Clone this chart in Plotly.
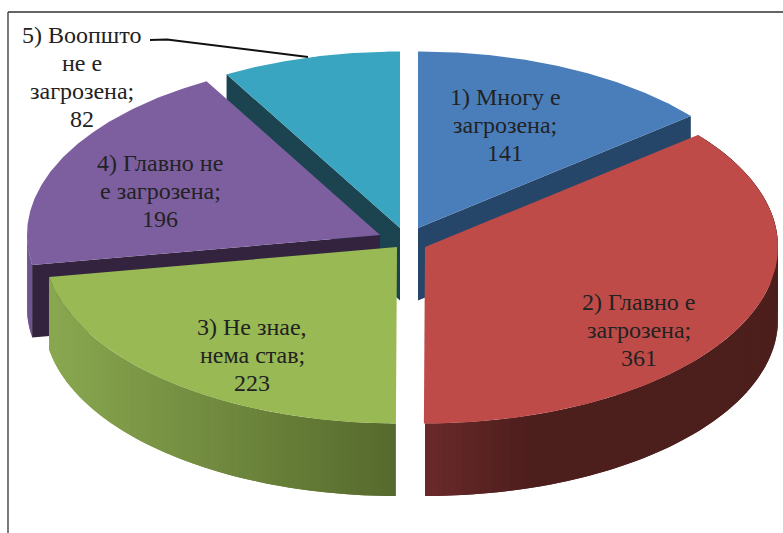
import numpy as np
import plotly.graph_objects as go

categories = ["1) Многу е", "2) Главно е", "3) Не знае,", "4) Главно не", "5) Воопшто"]
label_tails = [["загрозена;"], ["загрозена;"], ["нема став;"], ["е загрозена;"], ["не е", "загрозена;"]]
values = [141, 361, 223, 196, 82]

colors_top = ["#4a7ebb", "#be4b48", "#98b954", "#7d5f9f", "#3aa5c1"]
colors_cut = ["#254669", "#4c1e1c", "#566a2d", "#33233f", "#1c4450"]
centers = [(418, 228), (425, 247), (397, 247), (380, 235), (400, 228)]
label_pos = [(505, 97), (639, 302), (252, 327), (160, 163), (82, 35)]
RX, RY, DEPTH = 353, 176.5, 72.5
LINE_GAP = 28

total = sum(values)
edges = np.concatenate([[0], np.cumsum(values)]) / total * 2 * np.pi
fig = go.Figure()


def point(i, a, dy=0.0):
    cx, cy = centers[i]
    return cx + RX * np.sin(a), cy - RY * np.cos(a) + dy


def poly(xs, ys, color):
    fig.add_trace(go.Scatter(x=list(xs), y=list(ys), mode="lines", fill="toself",
                             fillcolor=color, line=dict(width=0, color=color),
                             hoverinfo="skip", showlegend=False))


def top(i):
    a = np.linspace(edges[i], edges[i + 1], 120)
    x, y = point(i, a)
    cx, cy = centers[i]
    poly(np.r_[cx, x, cx], np.r_[cy, y, cy], colors_top[i])


def cut(i, a):
    cx, cy = centers[i]
    x, y = point(i, a)
    poly([cx, x, x, cx, cx], [cy, y, y + DEPTH, cy + DEPTH, cy], colors_cut[i])


def lerp(c0, c1, t):
    t = min(max(t, 0), 1)
    return "rgb(%d,%d,%d)" % tuple(round(p + (q - p) * t) for p, q in zip(c0, c1))


def wall(i, a0, a1, shade, n=90):
    a = np.linspace(a0, a1, n + 1)
    for k in range(n):
        seg = a[k:min(k + 3, n + 1)]
        x, y = point(i, seg)
        poly(np.r_[x, x[::-1]], np.r_[y, y[::-1] + DEPTH], shade(x[0]))


# back to front
cut(4, edges[4])
top(4)
cut(0, edges[1])
top(0)
wall(3, edges[3], 1.5 * np.pi, lambda x: "#6f5590", n=8)
cut(3, edges[3])
top(3)
wall(2, edges[2], edges[3], lambda x: lerp((0x56, 0x6a, 0x2d), (0x8a, 0xa8, 0x50), (397 - x) / 349))
top(2)
wall(1, edges[1], np.pi, lambda x: lerp((0x6b, 0x2a, 0x2a), (0x4c, 0x1e, 0x1c), (x - 425) / 110), n=130)
top(1)

# leader line of label 5
fig.add_trace(go.Scatter(x=[150, 167, 308], y=[40, 39.5, 57], mode="lines",
                         line=dict(color="#111111", width=2), hoverinfo="skip", showlegend=False))

for name, tail, v, (x, y) in zip(categories, label_tails, values, label_pos):
    for k, line in enumerate([name] + tail + [str(v)]):
        fig.add_annotation(x=x, y=y + k * LINE_GAP, xref="x", yref="y", showarrow=False,
                           align="center", xanchor="center", yanchor="middle", text=line,
                           font=dict(family="Liberation Serif", size=24, color="#222222"))

frame = dict(color="#333333", width=1.3)
fig.add_shape(type="line", x0=8, x1=783, y0=12, y1=12, xref="x", yref="y", line=frame)
fig.add_shape(type="line", x0=8, x1=8, y0=12, y1=533, xref="x", yref="y", line=frame)

fig.update_xaxes(range=[0, 783], visible=False, fixedrange=True)
fig.update_yaxes(range=[533, 0], visible=False, fixedrange=True)
fig.update_layout(width=783, height=533, margin=dict(l=0, r=0, t=0, b=0),
                  paper_bgcolor="white", plot_bgcolor="white", showlegend=False)
fig.write_html("out.html", config={"displayModeBar": False},
               post_script="document.body.style.margin='0';document.documentElement.style.overflow='hidden';")
